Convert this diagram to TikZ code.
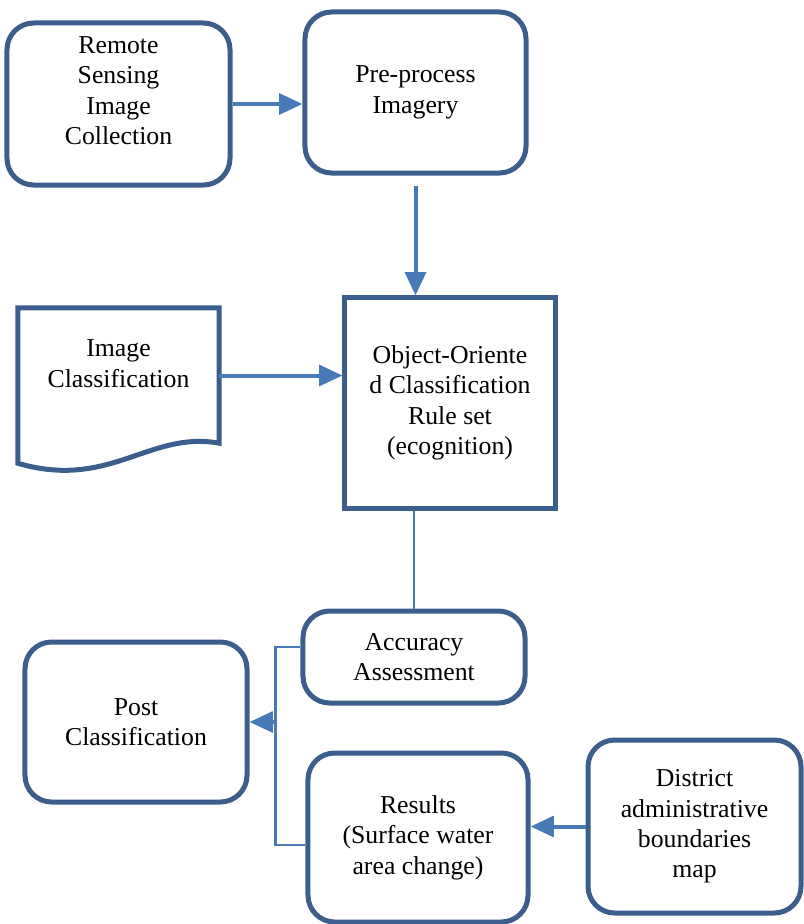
\documentclass[tikz,border=0pt]{standalone}
\usepackage{fontspec}
\setmainfont{Liberation Serif}
\usepackage{xcolor}
\usepackage{tikz}
\usetikzlibrary{positioning, calc, arrows.meta}

\definecolor{boxblue}{RGB}{60,94,140}
\definecolor{lineblue}{RGB}{72,122,184}

\begin{document}
\begin{tikzpicture}[x=0.03cm, y=-0.03cm,
    font=\fontsize{22}{26}\selectfont,
    rbox/.style={draw=boxblue, line width=0.15cm, rounded corners=0.8cm, fill=white, align=center, text=black},
    sbox/.style={draw=boxblue, line width=0.15cm, fill=white, align=center, text=black},
    flow/.style={draw=lineblue, line width=0.12cm, -{Triangle[length=0.7cm, width=0.62cm]}},
    link/.style={draw=lineblue, line width=0.08cm}]
    % Surface water mapping workflow
    \useasboundingbox (0,0) rectangle (803,924);

    \node[rbox, minimum width=6.69cm, minimum height=4.86cm] (remote) at (118.5,104) {Remote\\Sensing\\Image\\Collection\\[-0.11cm]};
    \node[rbox, minimum width=6.63cm, minimum height=4.83cm] (pre) at (415.5,92.5) {Pre-process\\Imagery};
    \node[sbox, minimum width=6.3cm, minimum height=6.3cm] (object) at (450,403) {Object-Oriente\\d Classification\\Rule set\\(ecognition)};
    \node[align=center, text=black, minimum width=6.03cm, minimum height=4.05cm] (imgclass) at (118.5,375.5) {Image\\Classification\\[-0.2cm]};
    \node[rbox, minimum width=6.66cm, minimum height=2.76cm] (accuracy) at (414,657) {Accuracy\\Assessment};
    \node[rbox, minimum width=6.66cm, minimum height=4.8cm] (post) at (136,722) {Post\\Classification};
    \node[rbox, minimum width=6.6cm, minimum height=5.07cm] (results) at (418,837.5) {Results\\(Surface water\\area change)};
    \node[rbox, minimum width=6.39cm, minimum height=5.19cm] (district) at (694.5,826.5) {District\\administrative\\boundaries\\map};

    % document shape
    \draw[draw=boxblue, line width=0.15cm] (imgclass.north west) -- ([yshift=-0.6cm]imgclass.south west)
        .. controls ($(imgclass.south west)+(92,47)$) and ($(imgclass.south west)+(132,-13)$) .. (imgclass.south east)
        -- (imgclass.north east) -- cycle;

    \draw[flow] (remote.east) -- (remote.east -| pre.west);
    \draw[flow, shorten <=0.3cm] (pre.south) -- (pre.south |- object.north);
    \draw[flow] (imgclass.east) -- (imgclass.east -| object.west);
    \draw[link] (object.south -| accuracy.north) -- (accuracy.north);

    \coordinate (fork) at ($(post.east)+(26,0)$);
    \draw[link] ([yshift=0.3cm]accuracy.west) -| (fork) |- ([yshift=-0.225cm]results.west);
    \draw[flow] (fork) -- (post.east);
    \draw[flow] (district.west) -- (district.west -| results.east);
\end{tikzpicture}
\end{document}
